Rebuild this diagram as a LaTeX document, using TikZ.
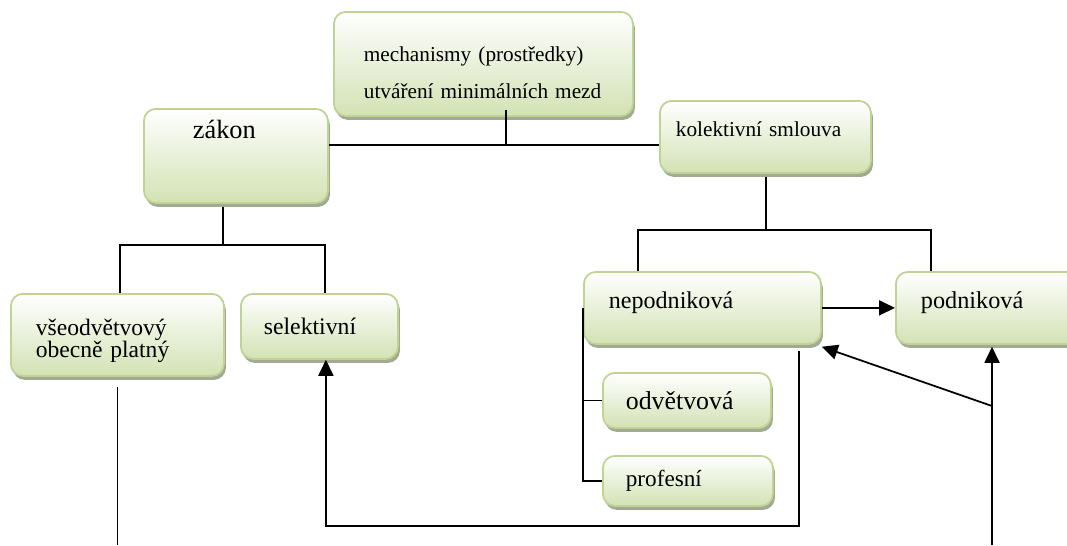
\documentclass[tikz,border=0pt]{standalone}
\usepackage{fontspec}
\setmainfont{Liberation Serif}
\usepackage{xcolor}
\definecolor{boxline}{HTML}{BFD494}
\definecolor{boxfill}{HTML}{D3E2B4}
\definecolor{boxshadow}{HTML}{A3A992}
\usetikzlibrary{arrows.meta, positioning, calc, shadows}

\begin{document}
\begin{tikzpicture}[
        box/.style={
            rectangle,
            rounded corners=0.24cm,
            draw=boxline,
            line width=1pt,
            top color=white,
            bottom color=boxfill,
            anchor=north west,
            align=left,
            inner ysep=0pt,
            drop shadow={shadow xshift=0.04cm, shadow yshift=-0.08cm, fill=boxshadow, opacity=1}
        },
        link/.style={
            draw=black,
            line width=1pt
        },
        arrow/.style={
            link,
            -{Triangle[length=0.32cm, width=0.3cm]}
        }
    ]

    \clip (0,0) rectangle (21.34,10.90);

    % Top: mechanisms
    \node[box, minimum width=5.98cm, minimum height=2.08cm, inner xsep=0.6cm, text width=4.78cm,
          font=\fontsize{12.1}{14}\selectfont] (mech) at (6.66,10.68)
        {\rule{0pt}{0.66cm}mechanismy (prostředky)\\[0.25cm] utváření minimálních mezd};

    % Left branch: law
    \node[box, minimum width=3.68cm, minimum height=1.88cm, inner xsep=0.98cm, text width=1.72cm,
          text depth=1.05cm, font=\fontsize{15}{17}\selectfont] (zakon) at (2.86,8.74) {zákon};
    \node[box, minimum width=4.26cm, minimum height=1.64cm, inner xsep=0.5cm, text width=3.26cm,
          font=\fontsize{13.4}{12.6}\selectfont] (vseo) at (0.20,5.04)
        {\rule{0pt}{0.55cm}všeodvětvový\\obecně platný};
    \node[box, minimum width=3.14cm, minimum height=1.30cm, inner xsep=0.46cm, text width=2.22cm,
          font=\fontsize{13.5}{16}\selectfont] (sel) at (4.80,5.04) {selektivní};

    % Right branch: collective agreement
    \node[box, minimum width=4.22cm, minimum height=1.44cm, inner xsep=0.32cm, text width=3.58cm,
          text depth=0.3cm, font=\fontsize{12.1}{14}\selectfont] (kol) at (13.18,8.90) {kolektivní smlouva};
    \node[box, minimum width=4.74cm, minimum height=1.44cm, inner xsep=0.5cm, text width=3.74cm,
          text depth=0.3cm, font=\fontsize{13.7}{16}\selectfont] (nep) at (11.66,5.48) {nepodniková};
    \node[box, minimum width=4.74cm, minimum height=1.44cm, inner xsep=0.5cm, text width=3.74cm,
          text depth=0.3cm, font=\fontsize{13.8}{16}\selectfont] (pod) at (17.90,5.48) {podniková};
    \node[box, minimum width=3.36cm, minimum height=1.10cm, inner xsep=0.46cm, text width=2.44cm,
          font=\fontsize{14.7}{17}\selectfont] (odv) at (12.04,3.46) {odvětvová};
    \node[box, minimum width=3.40cm, minimum height=1.00cm, inner xsep=0.46cm, text width=2.48cm,
          font=\fontsize{13.2}{15}\selectfont] (prof) at (12.04,1.80) {profesní};

    % Joints
    \coordinate (topj) at (10.12,8.00);
    \coordinate (zakj) at (4.46,6.00);
    \coordinate (zakl) at (2.40,6.00);
    \coordinate (zakr) at (6.50,6.00);
    \coordinate (kolj) at (15.32,6.30);
    \coordinate (koll) at (12.76,6.30);
    \coordinate (kolr) at (18.62,6.30);
    \coordinate (loopr) at (15.98,0.38);
    \coordinate (rightj) at (19.84,2.78);

    % Tree lines
    \draw[link] ([yshift=0.14cm]topj |- mech.south) -- (topj);
    \draw[link] (zakon.east |- topj) -- (kol.west |- topj);
    \draw[link] ([yshift=-0.06cm]zakj |- zakon.south) -- (zakj);
    \draw[link] (zakl |- vseo.north) -- (zakl) -- (zakr) -- (zakr |- sel.north);
    \draw[link] ([yshift=-0.06cm]kolj |- kol.south) -- (kolj);
    \draw[link] (koll |- nep.north) -- (koll) -- (kolr) -- (kolr |- pod.north);
    \draw[link] ([yshift=-0.2cm]vseo.south) -- (vseo.south |- 0,0);
    \draw[link] (nep.west) |- (prof.west);
    \draw[link] (odv.west) -- (odv.west -| nep.west);

    % Arrows
    \draw[arrow] (nep.east) -- (pod.west);
    \draw[arrow] ([yshift=-0.12cm]loopr |- nep.south) -- (loopr) -| ([xshift=0.13cm]sel.south);
    \draw[arrow] (rightj |- 0,0) -- ([yshift=-0.04cm]rightj |- pod.south);
    \draw[arrow] (rightj) -- ([yshift=-0.04cm]nep.south east);

\end{tikzpicture}
\end{document}
